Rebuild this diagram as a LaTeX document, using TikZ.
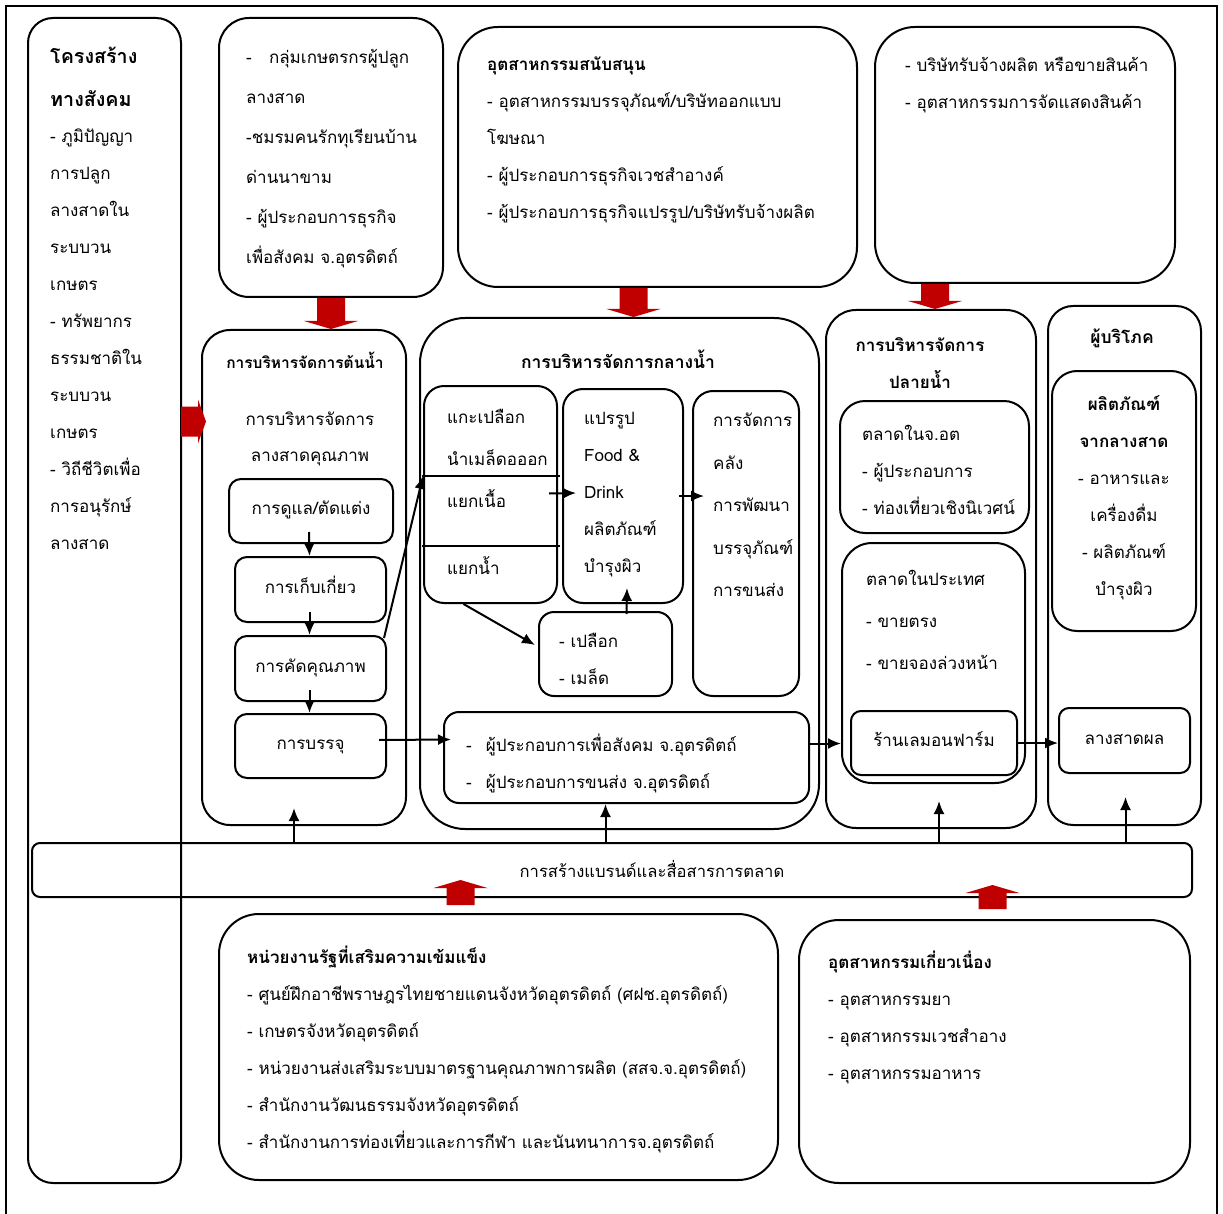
\documentclass[tikz,border=0pt]{standalone}
\usepackage{fontspec}
\setmainfont{Loma}[Script=Thai]
\usepackage{tikz}
\usetikzlibrary{arrows.meta,positioning,fit,calc}
\definecolor{arrred}{RGB}{192,0,0}

\newcommand{\tf}[1]{\fontsize{17}{#1}\selectfont}
\newcommand{\tstrut}{\rule{0pt}{22pt}}
% red block arrows: x from #1, tip at #2
\newcommand{\blockdown}[2]{%
  \fill[redarr] let \p1=#1, \p2=#2 in
    (\x1-14pt,\y1) -- (\x1+14pt,\y1) -- (\x1+14pt,\y2+8pt) -- (\x1+27pt,\y2+8pt)
    -- (\x1,\y2) -- (\x1-27pt,\y2+8pt) -- (\x1-14pt,\y2+8pt) -- cycle;}
\newcommand{\blockup}[2]{%
  \fill[redarr] let \p1=#1, \p2=#2 in
    (\x1-14pt,\y1) -- (\x1+14pt,\y1) -- (\x1+14pt,\y2-8pt) -- (\x1+27pt,\y2-8pt)
    -- (\x1,\y2) -- (\x1-27pt,\y2-8pt) -- (\x1-14pt,\y2-8pt) -- cycle;}

\begin{document}
\begin{tikzpicture}[
      x=1pt, y=-1pt,
      box/.style={draw,line width=2pt,rounded corners=#1,inner sep=0pt},
      box/.default=20pt,
      small/.style={box=#1,font=\tf{37},text height=12pt,text depth=5pt},
      small/.default=10pt,
      txt/.style={anchor=north west,inner sep=0pt,align=left,font=\tf{#1},
        execute at begin node=\tstrut,yshift=-8pt},
      txt/.default=37,
      ctxt/.style={anchor=north,inner sep=0pt,align=center,font=\tf{#1},
        execute at begin node=\tstrut,yshift=-8pt},
      ctxt/.default=37,
      title/.style={anchor=base,inner sep=0pt,font=\bfseries\fontsize{#1}{37}\selectfont},
      title/.default=17.5,
      conn/.style={->,line width=2pt},
      redarr/.style={fill=arrred},
      >={Latex[length=13pt,width=11pt]}
    ]
    \useasboundingbox (0,0) rectangle (1223,1214);
    \draw[line width=1.4pt] (6,1230) -- (6,6) -- (1217,6) -- (1217,1230);

    % social structure
    \node[box=25pt,fit={(28,18) (181,1183)}] (soc) {};
    \node[txt=43,font=\bfseries\fontsize{19.7}{43}\selectfont] (soct) at (50,39)
      {โครงสร้าง\\ทางสังคม};
    \node[txt] (socb) at (50,121)
      {- ภูมิปัญญา\\การปลูก\\ลางสาดใน\\ระบบวน\\เกษตร\\- ทรัพยากร\\ธรรมชาติใน\\ระบบวน\\เกษตร\\- วิถีชีวิตเพื่อ\\การอนุรักษ์\\ลางสาด};

    % supporting boxes on top
    \node[box=30pt,fit={(219,18) (443,297)}] (sup1) {};
    \node[txt=40] (sup1t) at (246,41)
      {-~~ กลุ่มเกษตรกรผู้ปลูก\\ลางสาด\\-ชมรมคนรักทุเรียนบ้าน\\ด่านนาขาม\\- ผู้ประกอบการธุรกิจ\\เพื่อสังคม จ.อุตรดิตถ์};
    \node[box=40pt,fit={(458,27) (857,287)}] (sup2) {};
    \node[txt] (sup2t) at (487,49)
      {\textbf{อุตสาหกรรมสนับสนุน}\\- อุตสาหกรรมบรรจุภัณฑ์/บริษัทออกแบบ\\โฆษณา\\- ผู้ประกอบการธุรกิจเวชสำอางค์\\- ผู้ประกอบการธุรกิจแปรรูป/บริษัทรับจ้างผลิต};
    \node[box=40pt,fit={(875,27) (1175,283)}] (sup3) {};
    \node[txt] (sup3t) at (905,49)
      {- บริษัทรับจ้างผลิต หรือขายสินค้า\\- อุตสาหกรรมการจัดแสดงสินค้า};

    % upstream
    \node[box=28pt,fit={(202,330) (406,825)}] (up) {};
    \node[title=15.5] (upt) at (305,368) {การบริหารจัดการต้นน้ำ};
    \node[ctxt=36] (ups) at (310,404) {การบริหารจัดการ\\ลางสาดคุณภาพ};
    \node[small=12pt,minimum width=164pt,minimum height=64pt] (care) at (311,511) {การดูแล/ตัดแต่ง};
    \node[small=12pt,minimum width=151pt,minimum height=65pt] (harv) at (310.5,589.5) {การเก็บเกี่ยว};
    \node[small=12pt,minimum width=151pt,minimum height=65pt] (qual) at (310.5,668.5) {การคัดคุณภาพ};
    \node[small=12pt,minimum width=151pt,minimum height=64pt] (pack) at (310.5,746) {การบรรจุ};

    % midstream
    \node[box=45pt,fit={(420,318) (819,829)}] (mid) {};
    \node[title] (midt) at (618,368) {การบริหารจัดการกลางน้ำ};
    \node[box,fit={(424,386) (557,603)}] (peel) {};
    \coordinate (s1w) at (422,476);
    \coordinate (s1e) at (560,476);
    \coordinate (s2w) at (422,546);
    \coordinate (s2e) at (560,546);
    \draw[line width=2pt] (s1w) -- (s1e);
    \draw[line width=2pt] (s2w) -- (s2e);
    \node[txt=42] (peelt) at (447,401) {แกะเปลือก\\นำเมล็ดอออก\\แยกเนื้อ\\[25pt]แยกน้ำ};
    \node[box,fit={(563,389) (683,603)}] (proc) {};
    \node[txt] (proct) at (584,404) {แปรรูป\\Food \&\\Drink\\ผลิตภัณฑ์\\บำรุงผิว};
    \node[box,fit={(693,391) (799,696)}] (ware) {};
    \node[txt=42.5] (waret) at (713,405) {การจัดการ\\คลัง\\การพัฒนา\\บรรจุภัณฑ์\\การขนส่ง};
    \node[box=15pt,fit={(539,612) (672,696)}] (rest) {};
    \node[txt] (restt) at (559,625) {- เปลือก\\- เมล็ด};
    \node[box=15pt,fit={(444,712) (809,803)}] (ent) {};
    \node[txt] (entt) at (466,726)
      {-\hspace{14pt}ผู้ประกอบการเพื่อสังคม จ.อุตรดิตถ์\\-\hspace{14pt}ผู้ประกอบการขนส่ง จ.อุตรดิตถ์};

    % downstream
    \node[box=30pt,fit={(826,310) (1036,828)}] (down) {};
    \node[ctxt,font=\bfseries\tf{37}] (downt) at (920,329) {การบริหารจัดการ\\ปลายน้ำ};
    \node[box=25pt,fit={(840,401) (1029,533)}] (mk1) {};
    \node[txt] (mk1t) at (862,417) {ตลาดในจ.อต\\- ผู้ประกอบการ\\- ท่องเที่ยวเชิงนิเวศน์};
    \node[box=30pt,fit={(842,543) (1025,783)}] (mk2) {};
    \node[txt=42] (mk2t) at (866,562) {ตลาดในประเทศ\\- ขายตรง\\- ขายจองล่วงหน้า};
    \node[small,minimum width=166pt,minimum height=64pt] (shop) at (934,743) {ร้านเลมอนฟาร์ม};

    % consumers
    \node[box=25pt,fit={(1048,306) (1201,825)}] (cons) {};
    \node[title] (const) at (1122,344) {ผู้บริโภค};
    \node[box=25pt,fit={(1052,371) (1196,631)}] (prod) {};
    \node[ctxt] (prodt) at (1124,387)
      {\textbf{ผลิตภัณฑ์}\\\textbf{จากลางสาด}\\- อาหารและ\\เครื่องดื่ม\\- ผลิตภัณฑ์\\บำรุงผิว};
    \node[small,minimum width=131pt,minimum height=65pt] (fruit) at (1124.5,740.5) {ลางสาดผล};

    % branding band
    \node[box=8pt,fit={(32,843) (1192,897)}] (band) {};
    \node[anchor=base,inner sep=0pt,font=\fontsize{16.6}{37}\selectfont] (bandt) at (652,877)
      {การสร้างแบรนด์และสื่อสารการตลาด};

    % bottom boxes
    \node[box=40pt,fit={(219,914) (778,1180)}] (gov) {};
    \node[txt] (govt) at (247,938)
      {\textbf{หน่วยงานรัฐที่เสริมความเข้มแข็ง}\\- ศูนย์ฝึกอาชีพราษฎรไทยชายแดนจังหวัดอุตรดิตถ์ (ศฝช.อุตรดิตถ์)\\- เกษตรจังหวัดอุตรดิตถ์\\- หน่วยงานส่งเสริมระบบมาตรฐานคุณภาพการผลิต (สสจ.จ.อุตรดิตถ์)\\- สำนักงานวัฒนธรรมจังหวัดอุตรดิตถ์\\- สำนักงานการท่องเที่ยวและการกีฬา และนันทนาการจ.อุตรดิตถ์};
    \node[box=40pt,fit={(799,920) (1190,1183)}] (rel) {};
    \node[txt] (relt) at (828,943)
      {\textbf{อุตสาหกรรมเกี่ยวเนื่อง}\\- อุตสาหกรรมยา\\- อุตสาหกรรมเวชสำอาง\\- อุตสาหกรรมอาหาร};

    % the arrows
    \draw[conn] ($(care.south)+(-2,-12)$) -- ($(harv.north)+(-1,0)$);
    \draw[conn] ($(harv.south)+(-1,-11)$) -- ($(qual.north)+(-1,0)$);
    \draw[conn] ($(qual.south)+(-1,-12)$) -- ($(pack.north)+(-1,0)$);
    \draw[conn] ($(qual.north east)+(-3,3)$) -- (peel.west |- s1w);
    \draw[conn] ($(peel.east)+(-9,-1)$) -- ($(proc.west)+(14,-3)$);
    \draw[conn] ($(proc.east)+(-5,0)$) -- ($(ware.west |- proc.east)+(12,0)$);
    \draw[conn] ($(peel.south)+(-27,0)$) -- ($(rest.west)+(-3,-9)$);
    \draw[conn] ($(rest.north)+(21,3)$) -- ($(proc.south)+(4,-16)$);
    \draw[conn] ($(pack.east)+(-8,-6)$) -- ($(ent.west)+(8,-18)$);
    \draw[conn] ($(ent.east)+(0,-14)$) -- ($(mk2.west |- ent.east)+(0,-14)$);
    \draw[conn] (shop.east) -- (fruit.west |- shop.east);

    % from the band up
    \draw[conn] ($(band.north -| up.south)+(-10,0)$) -- ($(up.south)+(-10,-18)$);
    \draw[conn] ($(band.north -| ent.south)+(-21,0)$) -- ($(ent.south)+(-21,0)$);
    \draw[conn] ($(band.north -| down.south)+(8,0)$) -- ($(down.south)+(8,-28)$);
    \draw[conn] ($(band.north -| cons.south)+(1,0)$) -- ($(cons.south)+(1,-29)$);

    % red block arrows
    \blockdown{(sup1.south)}{(up.north)}
    \blockdown{($(sup2.south)+(-24,0)$)}{(mid.north)}
    \blockdown{($(sup3.south)+(-90,0)$)}{(down.north)}
    \blockup{($(gov.north)+(-38,-8)$)}{($(band.south)+(0,-18)$)}
    \blockup{($(rel.north)+(-2,-10)$)}{($(band.south)+(0,-13)$)}
    \fill[redarr] let \p1=($(soc.east)+(-1,-179)$), \p2=($(up.west)+(5,0)$) in
      (\x1,\y1+15pt) -- (\x2-8pt,\y1+15pt) -- (\x2-8pt,\y1+22pt) -- (\x2,\y1)
      -- (\x2-8pt,\y1-22pt) -- (\x2-8pt,\y1-15pt) -- (\x1,\y1-15pt) -- cycle;
\end{tikzpicture}
\end{document}
